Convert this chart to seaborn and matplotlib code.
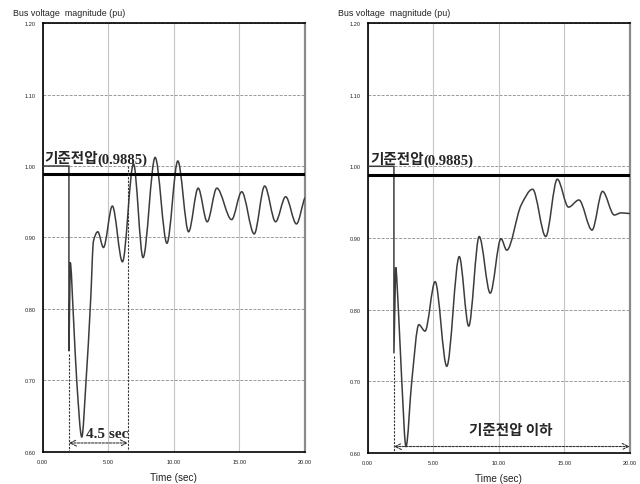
import numpy as np
import pandas as pd
import matplotlib
matplotlib.use("Agg")
import matplotlib.pyplot as plt
from matplotlib.path import Path
from matplotlib.patches import PathPatch
from matplotlib import font_manager
import seaborn as sns

# ---------------------------------------------------------------- data
fault_time = 2.0          # s, fault inception
reference_v = 0.9885      # pu, reference voltage
recovery_sec = 4.5        # s, time to recover to the reference (case 1)

x_ticks = [0.0, 5.0, 10.0, 15.0, 20.0]
y_ticks = [0.60, 0.70, 0.80, 0.90, 1.00, 1.10, 1.20]

# Case 1: bus voltage (pu) at the turning points of the trace
case1_time = [0.0, 2.0, 2.0, 2.1, 2.34, 2.6, 2.98, 3.3, 3.66, 3.87, 4.2, 4.63,
              5.31, 6.08, 6.92, 7.65, 8.57, 9.47, 10.3, 11.12, 11.85, 12.54,
              13.27, 14.4, 15.17, 16.12, 16.92, 17.75, 18.52, 19.34, 20.0]
case1_volt = [1.0, 1.0, 0.741, 0.865, 0.79, 0.698, 0.621, 0.698, 0.814, 0.895,
              0.908, 0.886, 0.944, 0.866, 1.003, 0.872, 1.012, 0.892, 1.007,
              0.908, 0.969, 0.922, 0.969, 0.925, 0.964, 0.905, 0.972, 0.922,
              0.957, 0.919, 0.956]

# Case 2: bus voltage (pu) at the turning points of the trace
case2_time = [0.0, 2.0, 2.0, 2.13, 2.34, 2.6, 2.92, 3.36, 3.9, 4.37, 5.14, 6.03,
              6.98, 7.7, 8.5, 9.34, 10.16, 10.6, 11.7, 12.57, 13.57, 14.45,
              15.31, 16.1, 17.1, 17.9, 18.8, 19.3, 20.0]
case2_volt = [1.0, 1.0, 0.739, 0.859, 0.80, 0.70, 0.609, 0.70, 0.779, 0.770,
              0.839, 0.721, 0.874, 0.777, 0.902, 0.823, 0.899, 0.883, 0.946,
              0.968, 0.902, 0.982, 0.943, 0.953, 0.911, 0.965, 0.932, 0.935,
              0.934]

N_STEP = 4  # the first points (pre-fault level, drop, spike) are joined by straight lines

# ---------------------------------------------------------------- style
sns.set_style("white")
available = {f.name for f in font_manager.fontManager.ttflist}
narrow = "Liberation Sans Narrow" if "Liberation Sans Narrow" in available else "Liberation Sans"
plt.rcParams["font.family"] = [narrow, "DejaVu Sans"]
KR = ["Noto Sans CJK KR", "DejaVu Sans"]
SERIF = ["Liberation Serif", "DejaVu Serif"]

CURVE = "#3c3c3c"
DASH = "#333333"


def trace_path(t, v, n_step):
    """Straight segments for the step, then a smooth Hermite (Bezier) trace."""
    t = np.asarray(t, float)
    v = np.asarray(v, float)
    verts = [(t[0], v[0])]
    codes = [Path.MOVETO]
    for i in range(1, n_step):
        verts.append((t[i], v[i]))
        codes.append(Path.LINETO)
    ts, vs = t[n_step - 1:], v[n_step - 1:]
    h = np.diff(ts)
    s = np.diff(vs) / h
    m = np.zeros_like(vs)
    for i in range(1, len(vs) - 1):
        if s[i - 1] * s[i] > 0:
            m[i] = 2 * s[i - 1] * s[i] / (s[i - 1] + s[i])
    m[-1] = 0.6 * s[-1]
    for k in range(len(h)):
        d = h[k] / 3.0
        verts += [(ts[k] + d, vs[k] + m[k] * d),
                  (ts[k + 1] - d, vs[k + 1] - m[k + 1] * d),
                  (ts[k + 1], vs[k + 1])]
        codes += [Path.CURVE4] * 3
    return Path(verts, codes)


def setup_axes(ax):
    ax.set_xlim(x_ticks[0], x_ticks[-1])
    ax.set_ylim(y_ticks[0], y_ticks[-1])
    ax.set_xticks(x_ticks)
    ax.set_yticks(y_ticks)
    ax.set_xticklabels([f"{x:.2f}" for x in x_ticks])
    ax.set_yticklabels([f"{y:.2f}" for y in y_ticks])
    ax.tick_params(axis="both", labelsize=4.1, length=3, width=0.6,
                   direction="out", pad=2, colors="#222222")
    ax.yaxis.grid(True, ls=(0, (3, 1.5)), color="#9a9a9a", lw=0.7)
    ax.xaxis.grid(True, ls="-", color="#c4c4c4", lw=0.8)
    ax.set_axisbelow(True)
    for side in ("left", "bottom", "top"):
        ax.spines[side].set_color("black")
        ax.spines[side].set_linewidth(1.2)
    ax.spines["right"].set_color("#8a8a8a")
    ax.spines["right"].set_linewidth(1.6)
    ax.set_xlabel("Time (sec)", fontsize=7.2, color="#222222")
    ax.xaxis.set_label_coords(0.5, -0.058)
    ax.xaxis.label.set_va("center")
    ax.set_ylabel("Bus voltage  magnitude (pu)", fontsize=6.4, rotation=0,
                  ha="left", va="center", color="#222222")
    ax.yaxis.set_label_coords(-0.113, 1.024)


def draw_case(ax, time, volt):
    ax.add_patch(PathPatch(trace_path(time, volt, N_STEP), fill=False,
                           edgecolor=CURVE, lw=1.1, zorder=3))
    ref = pd.DataFrame({"t": [x_ticks[0], x_ticks[-1]], "v": [reference_v, reference_v]})
    sns.lineplot(data=ref, x="t", y="v", ax=ax, color="black", lw=2.2, zorder=4)


def dashed_arrow(ax, x0, x1, y):
    ax.annotate("", xy=(x1, y), xytext=(x0, y),
                arrowprops=dict(arrowstyle="<->,head_length=0.45,head_width=0.22",
                                linestyle=(0, (2, 1.2)), lw=0.8, color=DASH,
                                shrinkA=0, shrinkB=0), zorder=5)


def ref_label(ax, x, y):
    return ax.text(x, y, "기준전압", family=KR, fontsize=10.5, fontweight="bold",
                   va="baseline", ha="left", zorder=6)


fig = plt.figure(figsize=(6.4, 4.85), dpi=100)
ax1 = fig.add_axes([0.0667, 0.066, 0.41, 0.8845])
ax2 = fig.add_axes([0.5745, 0.064, 0.41, 0.8866])

for ax in (ax1, ax2):
    setup_axes(ax)

draw_case(ax1, case1_time, case1_volt)
draw_case(ax2, case2_time, case2_volt)

# ---------------------------------------------------------------- annotations, case 1
end1 = fault_time + recovery_sec
ax1.plot([fault_time, fault_time], [0.737, y_ticks[0]], ls=(0, (2, 1.2)), lw=0.8, color=DASH, zorder=5)
ax1.plot([end1, end1], [1.0, y_ticks[0]], ls=(0, (2, 1.2)), lw=0.8, color=DASH, zorder=5)
dashed_arrow(ax1, fault_time, end1, 0.6126)
ax1.text(end1 + 0.05, 0.621, f"{recovery_sec} sec", family=SERIF, fontsize=11,
         fontweight="bold", ha="right", va="baseline", zorder=6)

# ---------------------------------------------------------------- annotations, case 2
ax2.plot([fault_time, fault_time], [0.735, y_ticks[0]], ls=(0, (2, 1.2)), lw=0.8, color=DASH, zorder=5)
dashed_arrow(ax2, fault_time, x_ticks[-1] - 0.03, 0.609)
ax2.text(10.9, 0.627, "기준전압 이하", family=KR, fontsize=10.5, fontweight="bold",
         ha="center", va="baseline", zorder=6)

# reference-voltage captions: Korean word followed by the value in serif
kr1 = ref_label(ax1, 0.1, 1.005)
kr2 = ref_label(ax2, 0.18, 1.004)
fig.canvas.draw()
for ax, kr, y in ((ax1, kr1, 1.005), (ax2, kr2, 1.004)):
    bb = kr.get_window_extent()
    x_right = ax.transData.inverted().transform((bb.x1, bb.y0))[0]
    ax.text(x_right, y, f"({reference_v})", family=SERIF, fontsize=10.5,
            fontweight="bold", ha="left", va="baseline", zorder=6)

fig.savefig("out.png", dpi=100, facecolor="white")
